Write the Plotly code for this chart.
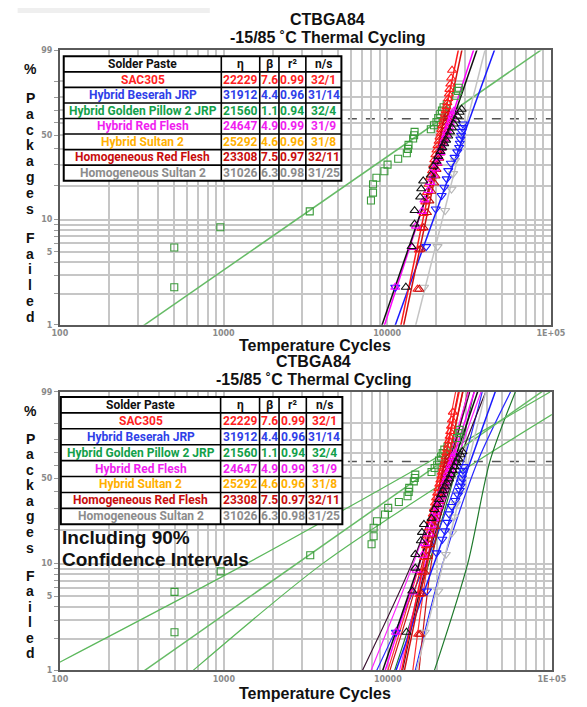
import numpy as np
import plotly.graph_objects as go

W, H = 587, 707

# ---------------- data ----------------
PASTES = ["SAC305", "Hybrid Beserah JRP", "Hybrid Golden Pillow 2 JRP", "Hybrid Red Flesh",
          "Hybrid Sultan 2", "Homogeneous Red Flesh", "Homogeneous Sultan 2"]
ETA = [22229, 31912, 21560, 24647, 25292, 23308, 31026]
BETA = [7.6, 4.4, 1.1, 4.9, 4.6, 7.5, 6.3]
R2 = ["0.99", "0.96", "0.94", "0.99", "0.96", "0.97", "0.98"]
NS = ["32/1", "31/14", "32/4", "31/9", "31/8", "32/11", "31/25"]
HEADER = ["Solder Paste", "η", "β", "r²", "n/s"]

TABLE_COLORS = ["#ff1f1f", "#2f3fe8", "#13a04a", "#f01ef0", "#ffb000", "#c80c0c", "#8c8c8c"]
LINE_COLORS = ["#ff1a1a", "#1a1aff", "#66bb66", "#ff00ff", "#111111", "#d01010", "#c4c4c4"]
MARKER_COLORS = ["#ff1a1a", "#1a1aff", "#3a9a3a", "#ff00ff", "#111111", "#c01010", "#b8b8b8"]
MARKERS = ["triangle-up-open", "triangle-down-open", "square-open", "triangle-up-open",
           "triangle-up-open", "triangle-up-open", "triangle-down-open"]
BOUND_COLORS = ["#ff3030", "#2a2aff", "#5cb85c", "#ff22ff", "#3a1030", "#c81818", "#1f7a2c"]

# failure points: cycles and % failed
SAC305_CYC = [15300, 15600, 16200, 16700, 17100, 17500, 17900, 18300, 18800, 19100, 19400,
              19700, 20000, 20300, 20600, 20900, 21200, 21400, 21700, 22000, 22300, 22500,
              22800, 23000, 23300, 23600, 23800, 24000, 24300, 24600, 24900]
SAC305_PCT = [2.2, 5.2, 8.3, 11.4, 14.5, 17.6, 20.7, 23.8, 26.9, 29.9, 33.0, 36.1, 39.2, 42.3,
              45.4, 48.5, 51.5, 54.6, 57.7, 60.8, 63.9, 67.0, 70.1, 73.1, 76.2, 79.3, 82.4,
              85.5, 88.6, 91.7, 94.8]
BESERAH_CYC = [11200, 17300, 19800, 21500, 22300, 23100, 23600, 24500, 25800, 26800, 27500,
               27800, 28000, 28300, 28500, 28700, 29000]
BESERAH_PCT = [2.3, 5.6, 12.5, 16.5, 19.5, 23.0, 27.0, 31.0, 34.5, 38.0, 41.0, 44.0, 47.0,
               50.0, 53.0, 56.0, 59.0]
GOLDEN_CYC = [500, 500, 956, 3363, 7957, 8190, 8190, 8590, 9610, 10050, 11670, 13180, 13400,
              13500, 14400, 14600, 14700, 18470, 19300, 20000, 20500, 21100, 21600, 22100,
              23100, 26400, 27000, 27400]
GOLDEN_PCT = [2.3, 5.5, 8.5, 11.9, 14.9, 17.5, 20.7, 23.5, 26.7, 30.2, 33.6, 37.1, 40.0, 42.8,
              47.5, 50.0, 52.6, 54.7, 57.9, 60.5, 63.8, 67.2, 69.9, 72.6, 75.0, 81.2, 84.5, 86.5]
REDFLESH_CYC = [11200, 14200, 15000, 16300, 16900, 17900, 18300, 19200, 19500, 20200, 20500,
                21200, 21500, 22100, 22400, 22900, 23200, 23800, 24100, 24700, 25000, 25600]
REDFLESH_PCT = [2.3, 5.5, 8.7, 11.9, 15.1, 18.3, 21.5, 24.7, 27.9, 31.1, 34.3, 37.5, 40.7,
                43.9, 47.1, 50.3, 53.5, 56.7, 59.9, 63.1, 66.3, 69.5]
SULTAN_CYC = [13000, 14100, 14700, 14700, 15900, 16140, 16600, 18480, 19200, 20000, 20500,
              21150, 21700, 22300, 22900, 23600, 24210, 24900, 25500, 26200, 26900, 27700, 28500]
SULTAN_PCT = [2.3, 5.6, 9.1, 12.1, 16.0, 18.9, 22.1, 24.8, 29.3, 32.1, 35.1, 38.2, 40.9, 43.6,
              46.3, 49.4, 52.6, 55.8, 59.0, 62.2, 65.4, 68.6, 71.0]
HOMRED_CYC = [15700, 16000, 16700, 17500, 18100, 18600, 19400, 19700, 20000, 20300, 20800,
              21000, 21400, 21700, 22000, 22200, 22500, 22700, 23000, 23400, 23600]
HOMRED_PCT = [2.2, 5.3, 8.4, 11.6, 14.8, 18.0, 21.2, 24.4, 27.6, 30.8, 34.0, 37.3, 40.5, 43.8,
              47.0, 50.3, 53.6, 56.9, 60.2, 63.5, 66.8]
HOMSUL_CYC = [16800, 20300, 22600, 24700, 25300, 26000]
HOMSUL_PCT = [2.3, 5.6, 12.1, 18.8, 25.5, 32.5]

POINT_CYC = [SAC305_CYC, BESERAH_CYC, GOLDEN_CYC, REDFLESH_CYC, SULTAN_CYC, HOMRED_CYC, HOMSUL_CYC]
POINT_PCT = [SAC305_PCT, BESERAH_PCT, GOLDEN_PCT, REDFLESH_PCT, SULTAN_PCT, HOMRED_PCT, HOMSUL_PCT]

# 90% confidence bounds (cycles at these % failed)
BOUND_PCT = [1, 10, 63.2, 99]
LOWER_BOUND = [
    [10000, 15600, 21300, 25900],
    [8550, 17000, 28900, 37600],
    [80, 1374, 17980, 97500],
    [7900, 14300, 23200, 31000],
    [7000, 14000, 23600, 31600],
    [10300, 16200, 22100, 26900],
    [11000, 17800, 26800, 33500],
]
UPPER_BOUND = [
    [14200, 17500, 23200, 28700],
    [14700, 21600, 35300, 56000],
    [650, 4000, 34880, 168000],
    [11800, 16900, 26200, 37000],
    [12300, 17200, 27100, 39500],
    [15500, 18400, 24600, 30700],
    [19240, 30700, 41900, 59900],
]

X_GRID = [100, 200, 300, 400, 500, 600, 700, 800, 900,
          1000, 2000, 3000, 4000, 5000, 6000, 7000, 8000, 9000,
          10000, 20000, 30000, 40000, 50000, 60000, 70000, 80000, 90000, 100000]
X_LABELS = {100: "100", 1000: "1000", 10000: "10000", 100000: "1E+05"}
Y_GRID = [1, 2, 3, 4, 5, 6, 7, 8, 9, 10, 20, 30, 40, 50, 60, 70, 80, 90, 99]
Y_LABELS = {1: "1", 5: "5", 10: "10", 50: "50", 99: "99"}
CHAR_LIFE_PCT = 63.2

TITLE_1 = "CTBGA84"
TITLE_2 = "-15/85 ˚C Thermal Cycling"
X_TITLE = "Temperature Cycles"
Y_TITLE = "% Packages Failed"
NOTE_LINES = ["Including 90%", "Confidence Intervals"]


def wb(p):
    p = np.asarray(p, dtype=float) / 100.0
    return np.log(-np.log(1.0 - p))


def px(x):
    return x / W


def py(y):
    return 1.0 - y / H


Y_MIN, Y_MAX = float(wb(1)), float(wb(99))

fig = go.Figure()

for panel in (1, 2):
    xa = "x" if panel == 1 else "x2"
    ya = "y" if panel == 1 else "y2"
    yl = np.array([Y_MIN - 0.3, Y_MAX + 0.3])
    order = [2, 6, 1, 0, 5, 3, 4]
    if panel == 2:
        for i in order:
            for bnd in (LOWER_BOUND[i], UPPER_BOUND[i]):
                fig.add_trace(go.Scatter(
                    x=bnd, y=wb(BOUND_PCT), mode="lines", xaxis=xa, yaxis=ya,
                    line=dict(color=BOUND_COLORS[i], width=1.2, shape="spline", smoothing=0.8),
                    showlegend=False, hoverinfo="skip"))
    for i in order:
        t = ETA[i] * np.exp(yl / BETA[i])
        fig.add_trace(go.Scatter(
            x=t, y=yl, mode="lines", xaxis=xa, yaxis=ya,
            line=dict(color=LINE_COLORS[i], width=1.5),
            showlegend=False, hoverinfo="skip"))
    for i in order:
        fig.add_trace(go.Scatter(
            x=POINT_CYC[i], y=wb(POINT_PCT[i]), mode="markers", xaxis=xa, yaxis=ya,
            marker=dict(symbol=MARKERS[i], size=8 if MARKERS[i] != "square-open" else 7,
                        color=MARKER_COLORS[i], line=dict(width=1.1, color=MARKER_COLORS[i])),
            showlegend=False, hoverinfo="skip"))

xaxis_common = dict(
    type="log", range=[2, 5], tickmode="array", tickvals=X_GRID,
    ticktext=[X_LABELS.get(v, "") for v in X_GRID],
    showgrid=True, gridcolor="#c6c6c6", gridwidth=1.5,
    showline=True, linecolor="#5a5a5a", linewidth=2, mirror=True,
    ticks="", tickfont=dict(family="DejaVu Sans", size=8, color="#8a8a8a", weight="bold"),
    zeroline=False, fixedrange=True,
)
yaxis_common = dict(
    range=[Y_MIN, Y_MAX], tickmode="array", tickvals=list(wb(Y_GRID)),
    ticktext=[Y_LABELS.get(v, "") for v in Y_GRID],
    showgrid=True, gridcolor="#c6c6c6", gridwidth=1.5,
    showline=True, linecolor="#5a5a5a", linewidth=2, mirror=True,
    ticks="outside", ticklen=4, tickcolor="#9a9a9a", tickwidth=1,
    tickfont=dict(family="DejaVu Sans", size=8, color="#8a8a8a", weight="bold"),
    zeroline=False, fixedrange=True,
)

fig.update_layout(
    width=W, height=H, margin=dict(l=0, r=0, t=0, b=0),
    paper_bgcolor="white", plot_bgcolor="white", showlegend=False,
    xaxis=dict(domain=[px(54), px(565)], anchor="y", **xaxis_common),
    yaxis=dict(domain=[py(325), py(47)], anchor="x", **yaxis_common),
    xaxis2=dict(domain=[px(54), px(566)], anchor="y2", **xaxis_common),
    yaxis2=dict(domain=[py(675), py(393)], anchor="x2", **yaxis_common),
)

shapes = []
annotations = []

# characteristic-life dashed line
for xr, yr in (("x domain", "y"), ("x2 domain", "y2")):
    yv = float(wb(CHAR_LIFE_PCT))
    shapes.append(dict(type="line", xref=xr, yref=yr, x0=0, x1=1, y0=yv, y1=yv,
                       line=dict(color="#555555", width=1.5, dash="dash"), layer="below"))

# faint artifact band at the top
shapes.append(dict(type="rect", xref="paper", yref="paper", x0=px(10), x1=px(210),
                   y0=py(9), y1=py(4), fillcolor="#efefef", line=dict(width=0), layer="below"))

COL_W = [164, 40, 20, 28, 37]


def draw_table(x0, x1, y0, y1):
    tot = sum(COL_W)
    xs = [x0]
    for w in COL_W:
        xs.append(xs[-1] + (x1 - x0) * w / tot)
    nrows = len(PASTES) + 1
    rh = (y1 - y0) / nrows
    shapes.append(dict(type="rect", xref="paper", yref="paper", x0=px(x0), x1=px(x1),
                       y0=py(y1), y1=py(y0), fillcolor="white",
                       line=dict(color="black", width=2), layer="above"))
    for r in range(1, nrows):
        yy = y0 + r * rh
        shapes.append(dict(type="line", xref="paper", yref="paper", x0=px(x0), x1=px(x1),
                           y0=py(yy), y1=py(yy), line=dict(color="black", width=1.6),
                           layer="above"))
    for c in range(1, len(COL_W)):
        shapes.append(dict(type="line", xref="paper", yref="paper", x0=px(xs[c]), x1=px(xs[c]),
                           y0=py(y1), y1=py(y0), line=dict(color="black", width=1.6),
                           layer="above"))
    rows = [(HEADER, "#111111")]
    for i in range(len(PASTES)):
        rows.append(([PASTES[i], str(ETA[i]), str(BETA[i]), R2[i], NS[i]], TABLE_COLORS[i]))
    for r, (cells, col) in enumerate(rows):
        yc = y0 + (r + 0.5) * rh
        for c, txt in enumerate(cells):
            xc = (xs[c] + xs[c + 1]) / 2
            annotations.append(dict(
                x=px(xc), y=py(yc), xref="paper", yref="paper", text="<b>%s</b>" % txt,
                showarrow=False, xanchor="center", yanchor="middle", borderpad=0,
                font=dict(family="Roboto", size=12, color=col)))


draw_table(58, 347, 53, 179)
draw_table(55, 348, 398, 527)


def add_text(x, y, text, size, bold=True, color="#111111", family="Liberation Sans",
             xanchor="center"):
    annotations.append(dict(
        x=px(x), y=py(y), xref="paper", yref="paper",
        text=("<b>%s</b>" % text) if bold else text, showarrow=False,
        xanchor=xanchor, yanchor="middle", font=dict(family=family, size=size, color=color)))


# titles
add_text(333, 16, TITLE_1, 16)
add_text(333, 34, TITLE_2, 16)
add_text(318, 362, TITLE_1, 16)
add_text(318, 380, TITLE_2, 16)
add_text(320, 346, X_TITLE, 16)
add_text(320, 698, X_TITLE, 16)

# vertical stacked y title
top_start, top_step = 66, 16.1
bot_start, bot_step = 412, 15.75
k = 0
for ch in Y_TITLE:
    if ch == " ":
        k += 0.8
        continue
    add_text(23, top_start + k * top_step, ch, 14)
    add_text(23, bot_start + k * bot_step, ch, 14)
    k += 1

# note inside lower plot
add_text(54, 540, NOTE_LINES[0], 19, xanchor="left")
add_text(54, 563, NOTE_LINES[1], 19, xanchor="left")

fig.update_layout(shapes=shapes, annotations=annotations)
fig.write_html("out.html")
